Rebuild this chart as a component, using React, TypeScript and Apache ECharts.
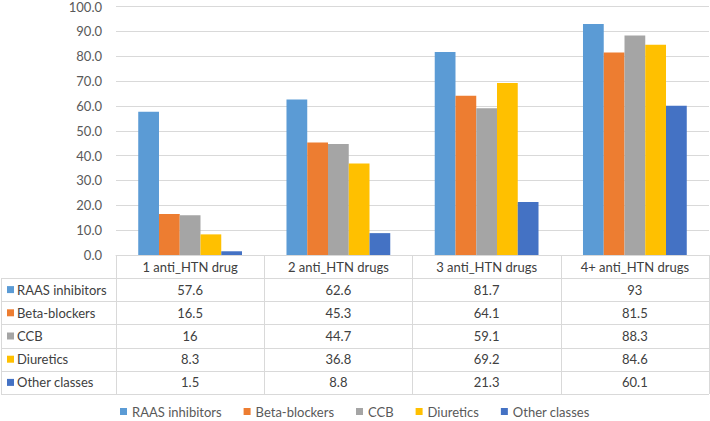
import React, { useEffect, useRef } from "react";
import * as echarts from "echarts";

const categories = ["1 anti_HTN drug", "2 anti_HTN drugs", "3 anti_HTN drugs", "4+ anti_HTN drugs"];
const seriesNames = ["RAAS inhibitors", "Beta-blockers", "CCB", "Diuretics", "Other classes"];
const raasInhibitors = [57.6, 62.6, 81.7, 93];
const betaBlockers = [16.5, 45.3, 64.1, 81.5];
const ccb = [16, 44.7, 59.1, 88.3];
const diuretics = [8.3, 36.8, 69.2, 84.6];
const otherClasses = [1.5, 8.8, 21.3, 60.1];
const seriesColors = ["#5B9BD5", "#ED7D31", "#A5A5A5", "#FFC000", "#4472C4"];

const allSeries = [raasInhibitors, betaBlockers, ccb, diuretics, otherClasses];

const FONT = "Lato";
const TEXT = "#595959";
const LINE = "#D9D9D9";
const HEADER_H = 23;
const ROW_H = 23.2;

export default function App() {
  const ref = useRef<HTMLDivElement>(null);
  useEffect(() => {
    if (!ref.current) return;
    const chart = echarts.init(ref.current, null, { renderer: "svg" });
    chart.setOption({
      animation: false,
      textStyle: { fontFamily: FONT },
      grid: { left: 116, right: 1, top: 5, bottom: 166, containLabel: false },
      legend: {
        left: 120,
        top: 405,
        padding: 0,
        icon: "rect",
        itemWidth: 7,
        itemHeight: 7,
        itemGap: 22,
        textStyle: { color: TEXT, fontSize: 13, fontFamily: FONT },
        data: seriesNames,
      },
      xAxis: {
        type: "category",
        data: categories,
        axisLine: { show: true, lineStyle: { color: LINE, width: 1 } },
        axisTick: { show: true, length: HEADER_H + 5 * ROW_H, interval: 0, lineStyle: { color: LINE } },
        axisLabel: { color: "#404040", fontSize: 13, margin: 5, interval: 0, fontFamily: FONT },
      },
      yAxis: {
        type: "value",
        min: 0,
        max: 100,
        interval: 10,
        axisLine: { show: false },
        axisTick: { show: false },
        axisLabel: {
          color: TEXT,
          fontSize: 13,
          margin: 14,
          fontFamily: FONT,
          formatter: (v: number) => v.toFixed(1),
        },
        splitLine: { lineStyle: { color: LINE, width: 1 } },
      },
      series: seriesNames.map((name, i) => ({
        name,
        type: "bar",
        data: allSeries[i],
        barGap: "0%",
        barCategoryGap: "30%",
        itemStyle: { color: seriesColors[i] },
      })),
    });

    const y0 = chart.convertToPixel({ yAxisIndex: 0 }, 0) as number;
    const centers = categories.map((c) => chart.convertToPixel({ xAxisIndex: 0 }, c) as number);
    const band = centers[1] - centers[0];
    const rightEdge = centers[centers.length - 1] + band / 2;
    const tableTop = y0 + HEADER_H;
    const elements: any[] = [];
    for (let k = 0; k <= seriesNames.length; k++) {
      const y = Math.round(tableTop + k * ROW_H) + 0.5;
      elements.push({
        type: "line",
        shape: { x1: 1, y1: y, x2: rightEdge, y2: y },
        style: { stroke: LINE, lineWidth: 1 },
      });
    }
    elements.push({
      type: "line",
      shape: { x1: 1.5, y1: Math.round(tableTop) + 0.5, x2: 1.5, y2: Math.round(tableTop + seriesNames.length * ROW_H) + 0.5 },
      style: { stroke: LINE, lineWidth: 1 },
    });
    seriesNames.forEach((name, i) => {
      const cy = tableTop + (i + 0.5) * ROW_H;
      elements.push({
        type: "rect",
        shape: { x: 7, y: cy - 3.5, width: 7, height: 7 },
        style: { fill: seriesColors[i] },
      });
      elements.push({
        type: "text",
        x: 17,
        y: cy,
        style: { text: name, fill: "#404040", font: `13px ${FONT}`, textAlign: "left", textVerticalAlign: "middle" },
      });
      allSeries[i].forEach((v, j) => {
        elements.push({
          type: "text",
          x: centers[j],
          y: cy,
          style: { text: String(v), fill: "#404040", font: `13px ${FONT}`, textAlign: "center", textVerticalAlign: "middle" },
        });
      });
    });
    chart.setOption({ graphic: { elements } });
    return () => chart.dispose();
  }, []);
  return (
    <div style={{ position: "fixed", left: 0, top: 0, width: 710, height: 421, background: "#fff" }}>
      <div ref={ref} style={{ width: 710, height: 421 }} />
    </div>
  );
}
